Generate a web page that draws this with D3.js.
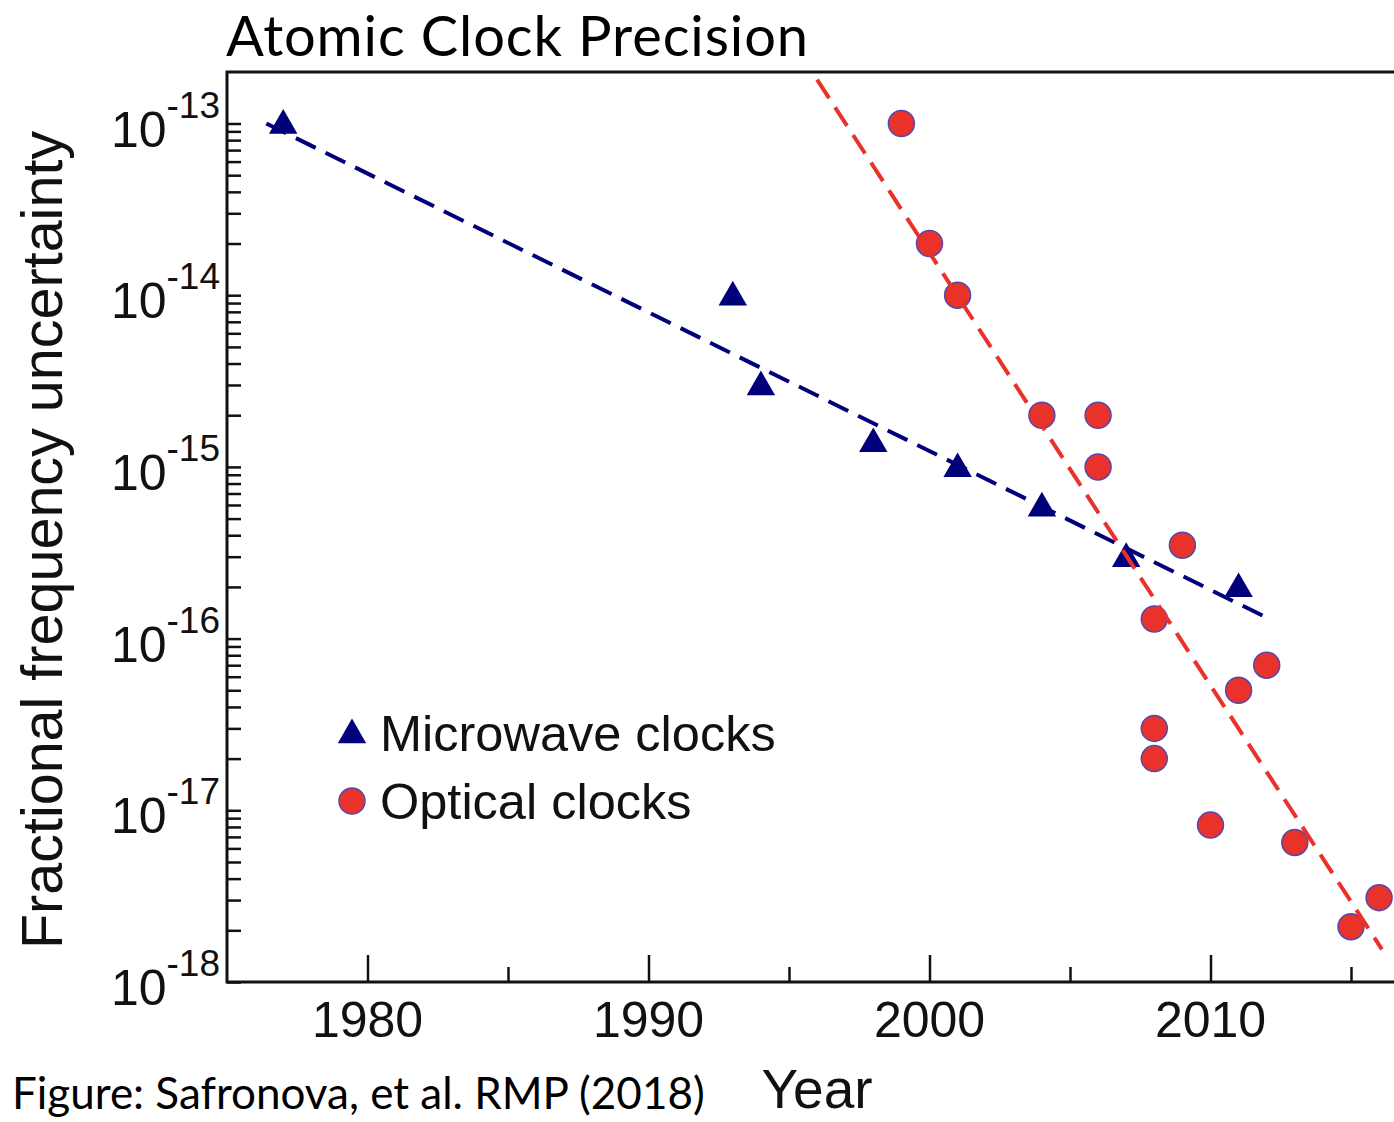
<!DOCTYPE html>
<html>
<head>
<meta charset="utf-8">
<script src="https://cdn.jsdelivr.net/npm/d3@7"></script>
<style>
  body { margin: 0; background: #fff; }
  svg { display: block; }
</style>
</head>
<body>
<script>
var W = 1394, H = 1122,
    margin = {top: 72, left: 227, bottom: 982};

// microwave clocks (triangles)
var microYears = [1977, 1993, 1994, 1998, 2001, 2004, 2007, 2011];
var microVals  = [1e-13, 1e-14, 3e-15, 1.4e-15, 1e-15, 5.9e-16, 3e-16, 2e-16];
// optical clocks (circles)
var optYears = [1999, 2000, 2001, 2004, 2006, 2006, 2008, 2009, 2008, 2008, 2010, 2011, 2012, 2013, 2015, 2016];
var optVals  = [1e-13, 2e-14, 1e-14, 2e-15, 2e-15, 1e-15, 1.3e-16, 3.5e-16, 3e-17, 2e-17, 8.2e-18, 5e-17, 7e-17, 6.5e-18, 2.1e-18, 3.1e-18];
// trend lines (end points)
var microTrend = [[1976.4, 1e-13], [2012.1, 1.3e-16]];
var optTrend   = [[1996.0, 1.8e-13], [2016.1, 1.55e-18]];

var decades = [-13, -14, -15, -16, -17, -18];
var majorYears = [1980, 1990, 2000, 2010];
var minorYears = [1985, 1995, 2005, 2015];

var svg = d3.select("body").append("svg")
    .attr("width", W).attr("height", H);

var x = d3.scaleLinear().domain([1975, 2020]).range([margin.left, margin.left + 45 * 28.1]);
var y = d3.scaleLog().domain([1e-18, Math.pow(10, -12.7)]).range([margin.bottom, margin.top]);

var navy = "#00007a", red = "#e8322a";

// minor y ticks
var yTicks = [];
decades.forEach(function(p){
  for (var m = 1; m < 10; m++) {
    var v = m * Math.pow(10, p);
    if (v <= y.domain()[1] * 1.0001) yTicks.push(v);
  }
});

var yAxis = svg.append("g")
    .attr("transform", "translate(" + margin.left + ",0)")
    .call(d3.axisRight(y).tickValues(yTicks).tickSize(14).tickFormat(""));
yAxis.select(".domain").remove();

var xMajor = svg.append("g")
    .attr("transform", "translate(0," + margin.bottom + ")")
    .call(d3.axisTop(x).tickValues(majorYears).tickSize(27).tickFormat(""));
var xMinor = svg.append("g")
    .attr("transform", "translate(0," + margin.bottom + ")")
    .call(d3.axisTop(x).tickValues(minorYears).tickSize(15).tickFormat(""));
svg.selectAll(".domain").remove();
svg.selectAll("g.tick line").attr("stroke", "#111").attr("stroke-width", 2.5);

// frame (left, bottom, top)
svg.append("path")
    .attr("d", "M" + (W + 5) + "," + margin.top + "H" + margin.left + "V" + margin.bottom + "H" + (W + 5))
    .attr("fill", "none").attr("stroke", "#111").attr("stroke-width", 3);

// y tick labels
var yl = svg.append("g").selectAll("text").data(decades).enter().append("text")
    .attr("x", 220)
    .attr("y", function(d){ return y(Math.pow(10, d)) + 23; })
    .attr("text-anchor", "end")
    .style("font-family", "Liberation Sans, Arial, sans-serif")
    .style("font-size", "50px")
    .attr("fill", "#111");
yl.append("tspan").text("10");
yl.append("tspan").attr("dy", -29).style("font-size", "37px").text(function(d){ return "-" + Math.abs(d); });

// x tick labels
svg.append("g").selectAll("text").data(majorYears).enter().append("text")
    .attr("x", function(d){ return x(d); })
    .attr("y", 1037)
    .attr("text-anchor", "middle")
    .style("font-family", "Liberation Sans, Arial, sans-serif")
    .style("font-size", "50px")
    .attr("fill", "#111")
    .text(function(d){ return d; });

// axis titles
svg.append("text")
    .attr("transform", "translate(62,540) rotate(-90)")
    .attr("text-anchor", "middle")
    .style("font-family", "Liberation Sans, Arial, sans-serif")
    .style("font-size", "57.5px")
    .attr("fill", "#111")
    .text("Fractional frequency uncertainty");

svg.append("text")
    .attr("x", 817).attr("y", 1108)
    .attr("text-anchor", "middle")
    .style("font-family", "Liberation Sans, Arial, sans-serif")
    .style("font-size", "55px")
    .attr("fill", "#111")
    .text("Year");

svg.append("text")
    .attr("x", 226).attr("y", 56)
    .style("font-family", "Lato, sans-serif")
    .style("font-size", "56px")
    .style("letter-spacing", "0.9px")
    .attr("fill", "#000")
    .text("Atomic Clock Precision");

svg.append("text")
    .attr("x", 12).attr("y", 1109)
    .style("font-family", "Lato, sans-serif")
    .style("font-size", "44px")
    .attr("fill", "#000")
    .text("Figure: Safronova, et al. RMP (2018)");

// markers
var tri = d3.symbol().type(d3.symbolTriangle).size(350);

svg.append("g").selectAll("path").data(microYears).enter().append("path")
    .attr("d", tri)
    .attr("transform", function(d, i){ return "translate(" + x(d) + "," + (y(microVals[i]) + 2) + ")"; })
    .attr("fill", navy);

svg.append("g").selectAll("circle").data(optYears).enter().append("circle")
    .attr("cx", function(d){ return x(d); })
    .attr("cy", function(d, i){ return y(optVals[i]); })
    .attr("r", 13)
    .attr("fill", red)
    .attr("stroke", "#5548b0")
    .attr("stroke-width", 1.5);

// trend lines
var line = d3.line().x(function(d){ return x(d[0]); }).y(function(d){ return y(d[1]); });

svg.append("path").datum(microTrend)
    .attr("d", line)
    .attr("fill", "none").attr("stroke", navy)
    .attr("stroke-width", 4).attr("stroke-dasharray", "22,11");

svg.append("path").datum(optTrend)
    .attr("d", line)
    .attr("fill", "none").attr("stroke", red)
    .attr("stroke-width", 4).attr("stroke-dasharray", "22,11");

// legend
var legendItems = ["Microwave clocks", "Optical clocks"];
var lg = svg.append("g").selectAll("g").data(legendItems).enter().append("g")
    .attr("transform", function(d, i){ return "translate(352," + (733 + i * 68) + ")"; });

lg.filter(function(d, i){ return i === 0; }).append("path")
    .attr("d", tri).attr("transform", "translate(0,2)").attr("fill", navy);
lg.filter(function(d, i){ return i === 1; }).append("circle")
    .attr("r", 13).attr("fill", red).attr("stroke", "#5548b0").attr("stroke-width", 1.5);

lg.append("text")
    .attr("x", 28).attr("y", 18)
    .style("font-family", "Liberation Sans, Arial, sans-serif")
    .style("font-size", "50.5px")
    .attr("fill", "#111")
    .text(function(d){ return d; });
</script>
</body>
</html>
